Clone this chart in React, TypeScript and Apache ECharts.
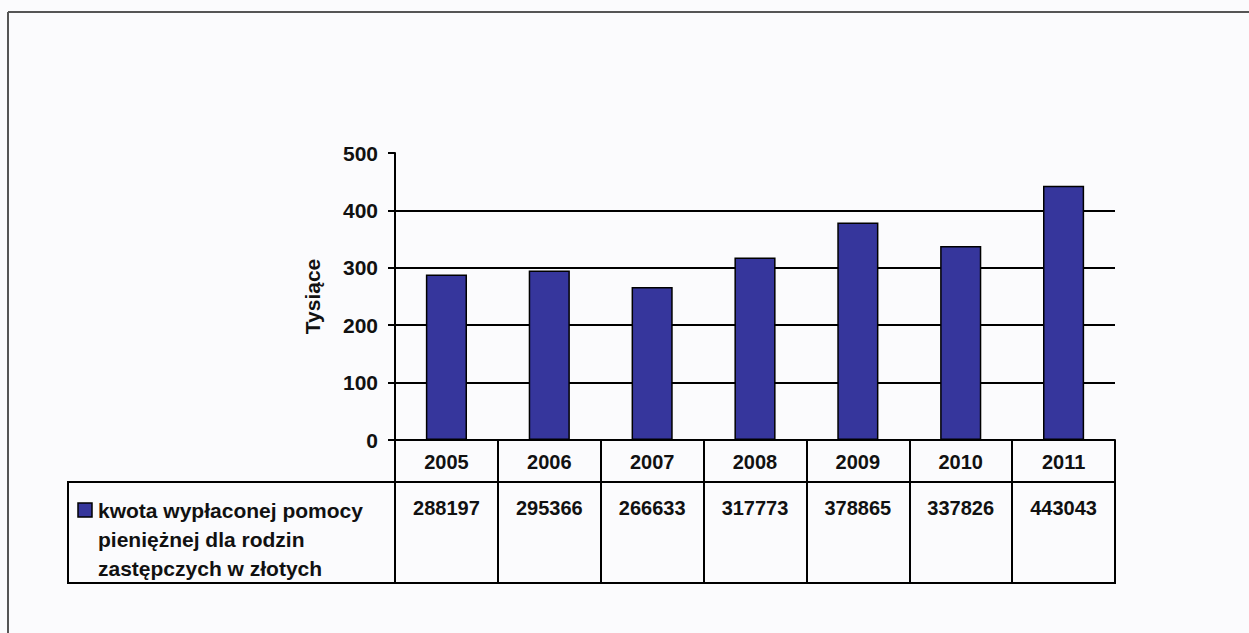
import React, { useEffect, useRef } from "react";
import * as echarts from "echarts";

const years = ["2005", "2006", "2007", "2008", "2009", "2010", "2011"];
const amountsPLN = [288197, 295366, 266633, 317773, 378865, 337826, 443043];
const seriesName = "kwota wypłaconej pomocy\npieniężnej dla rodzin\nzastępczych w złotych";
const axisName = "Tysiące";
const yMin = 0;
const yMax = 500;
const yStep = 100;

const FONT = "'Liberation Sans', Arial, sans-serif";
const BAR_COLOR = "#36369c";

export default function App() {
  const ref = useRef<HTMLDivElement>(null);
  useEffect(() => {
    if (!ref.current) return;
    const chart = echarts.init(ref.current, undefined, { renderer: "svg" });
    const thousands = amountsPLN.map((v) => v / 1000);
    const labelStyle = { fontFamily: FONT, fontWeight: "bold" as const, fontSize: 20, color: "#111" };
    chart.setOption({
      animation: false,
      backgroundColor: "#fbfbfd",
      grid: [
        { left: 395, top: 153, width: 720, height: 287 },
        { left: 395, top: 482, width: 720, height: 101, show: true, borderColor: "#000", borderWidth: 2, backgroundColor: "transparent" },
      ],
      legend: { show: false },
      xAxis: [
        {
          gridIndex: 0,
          type: "category",
          data: years,
          axisLine: { lineStyle: { color: "#000", width: 2 } },
          axisTick: { show: true, length: 42, lineStyle: { color: "#000", width: 2 } },
          axisLabel: { ...labelStyle, margin: 12 },
          splitLine: { show: false },
        },
        {
          gridIndex: 1,
          type: "category",
          data: years,
          position: "top",
          axisLine: { show: false },
          axisTick: { show: false },
          axisLabel: { ...labelStyle, inside: true, margin: 16, formatter: (_v: string, i: number) => String(amountsPLN[i]) },
          splitLine: { show: true, lineStyle: { color: "#000", width: 2 } },
        },
      ],
      yAxis: [
        {
          gridIndex: 0,
          type: "value",
          min: yMin,
          max: yMax,
          interval: yStep,
          name: axisName,
          nameLocation: "middle",
          nameGap: 72,
          nameRotate: 90,
          nameTextStyle: { ...labelStyle, fontSize: 21 },
          axisLine: { show: true, lineStyle: { color: "#000", width: 2 } },
          axisTick: { show: true, length: 7, lineStyle: { color: "#000", width: 2 } },
          axisLabel: { ...labelStyle, fontSize: 21, margin: 17 },
          splitLine: { show: true, showMaxLine: false, lineStyle: { color: "#000", width: 2 } },
        },
        { gridIndex: 1, type: "value", show: false },
      ],
      series: [
        {
          name: seriesName,
          type: "bar",
          xAxisIndex: 0,
          yAxisIndex: 0,
          data: thousands,
          barWidth: "40%",
          itemStyle: { color: BAR_COLOR, borderColor: "#000", borderWidth: 1.5 },
        },
      ],
      graphic: [
        { type: "rect", shape: { x: 68, y: 482, width: 327, height: 101 }, style: { fill: "none", stroke: "#000", lineWidth: 2 } },
        { type: "rect", shape: { x: 78, y: 503, width: 14, height: 14 }, style: { fill: BAR_COLOR, stroke: "#000", lineWidth: 1.5 } },
        {
          type: "text",
          x: 98,
          y: 496,
          style: { text: seriesName, fontFamily: FONT, fontWeight: "bold", fontSize: 21, lineHeight: 29, fill: "#111", textVerticalAlign: "top" },
        },
        { type: "line", shape: { x1: 8, y1: 12, x2: 1249, y2: 12 }, style: { stroke: "#555", lineWidth: 2 } },
        { type: "line", shape: { x1: 8, y1: 12, x2: 8, y2: 633 }, style: { stroke: "#555", lineWidth: 2 } },
      ],
    });
    return () => chart.dispose();
  }, []);
  return <div ref={ref} style={{ position: "fixed", left: 0, top: 0, width: 1249, height: 633 }} />;
}
